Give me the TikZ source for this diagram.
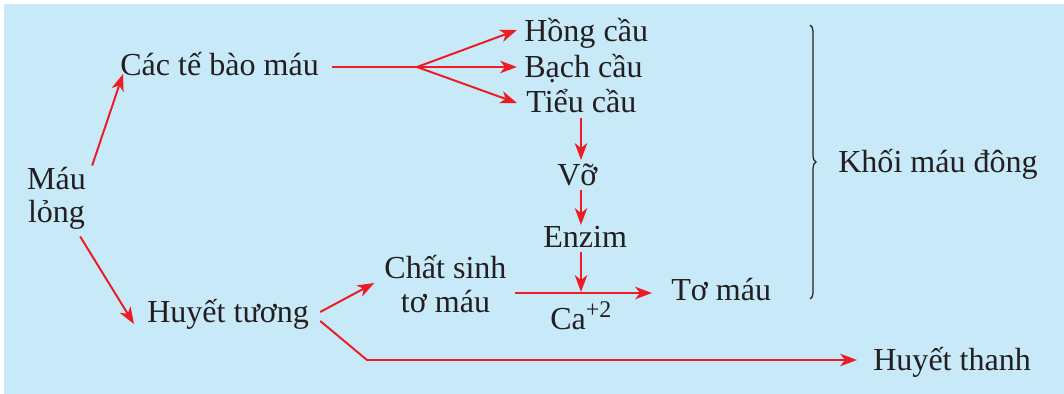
\documentclass[tikz,border=0pt]{standalone}
\usepackage{fontspec}
\setmainfont{Liberation Serif}
\usetikzlibrary{arrows.meta,positioning,calc,decorations.pathreplacing}
\definecolor{bgblue}{RGB}{199,233,248}
\definecolor{arrowred}{RGB}{237,28,36}
\definecolor{textdark}{RGB}{35,31,32}

\begin{document}
\begin{tikzpicture}[x=0.025cm, y=-0.025cm,
        lbl/.style={inner sep=0pt, anchor=base west, text=textdark, font=\fontsize{22.8}{23.6}\selectfont},
        lbltwo/.style={lbl, anchor=center, align=center},
        arrow/.style={->, >={Stealth[length=0.42cm, width=0.31cm, inset=0.12cm]}, draw=arrowred, line width=1.4pt},
        link/.style={draw=arrowred, line width=1.4pt}]

      % background
      \useasboundingbox (0,0) rectangle (1064,394);
      \fill[white] (-10,-10) rectangle (1080,410);
      \fill[bgblue] (4,4) rectangle (1080,410);

      \node[lbltwo] (maulong) at (56.5,198) {Máu\\lỏng};
      \node[lbl] (cac) at (120,76) {Các tế bào máu};
      \node[lbl] (hong) at (524,42) {Hồng cầu};
      \node[lbl] (bach) at (524,77) {Bạch cầu};
      \node[lbl] (tieu) at (526,112) {Tiểu cầu};
      \node[lbl] (vo) at (557,185) {Vỡ};
      \node[lbl] (enzim) at (543,247) {Enzim};
      \node[lbltwo] (chatsinh) at (445.5,284) {Chất sinh\\tơ máu};
      \node[lbl] (ca) at (550,329) {Ca\raisebox{0.3cm}{\fontsize{17}{17}\selectfont +2}};
      \node[lbl] (tomau) at (671,300) {Tơ máu};
      \node[lbl] (huyettuong) at (147,322) {Huyết tương};
      \node[lbl] (huyetthanh) at (873,370) {Huyết thanh};
      \node[lbl] (khoi) at (838,172) {Khối máu đông};

      \coordinate (split) at (417,67);
      \coordinate (join) at (581,292);
      \coordinate (bend) at (367,360);

      \draw[arrow] ($(maulong.north east)+(6,-1)$) -- ($(cac.base west)+(3,-2)$);
      \draw[arrow] ($(maulong.south east)+(-6,7)$) -- ($(huyettuong.base west)+(-13,2)$);

      \draw[link] ($(cac.base east)+(13,-9)$) -- (split);
      \draw[arrow] (split) -- ($(hong.base west)+(-7,-12)$);
      \draw[arrow] (split) -- ($(bach.base west)+(-7,-10)$);
      \draw[arrow] (split) -- ($(tieu.base west)+(-9,-9)$);

      \draw[arrow] ($(tieu.base west)+(55,6)$) -- ($(vo.base west)+(24,-25)$);
      \draw[arrow] ($(vo.base west)+(24,5)$) -- ($(enzim.base west)+(38,-22)$);
      \draw[arrow] ($(enzim.base west)+(38,5)$) -- (join);

      \draw[arrow] ($(huyettuong.base east)+(11,-10)$) -- ($(chatsinh.west)+(-10,-1)$);
      \draw[arrow] ($(chatsinh.east)+(8,9)$) -- ($(tomau.base west)+(-19,-7)$);
      \draw[link, -{Stealth[length=0.42cm, width=0.31cm, inset=0.12cm]}] ($(huyettuong.base east)+(11,-1)$) -- (bend) -- ($(huyetthanh.base west)+(-16,-10)$);

      % brace
      \draw[decorate, decoration={brace, amplitude=0.15cm}, line width=0.85pt, textdark] (810,25) -- (810,299);
    \end{tikzpicture}
\end{document}
